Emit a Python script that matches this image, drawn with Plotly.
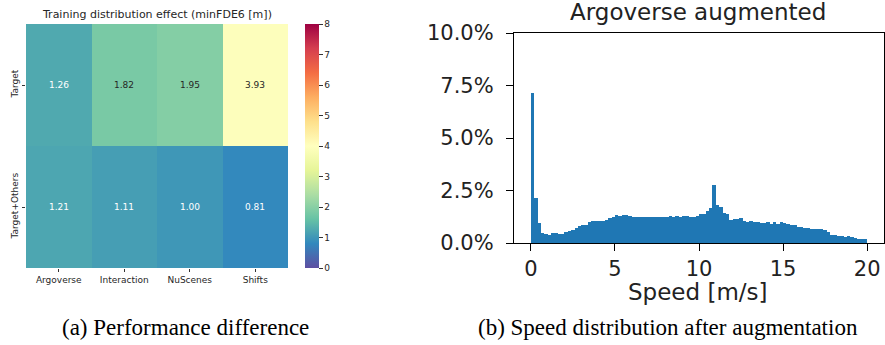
import plotly.graph_objects as go
from plotly.colors import sample_colorscale

# ---- data: heatmap ----
datasets = ["Argoverse", "Interaction", "NuScenes", "Shifts"]
train_setups = ["Target", "Target+Others"]
min_fde_target = [1.26, 1.82, 1.95, 3.93]
min_fde_target_others = [1.21, 1.11, 1.00, 0.81]
cbar_ticks = [0, 1, 2, 3, 4, 5, 6, 7, 8]

# ---- data: speed histogram (percent per 0.2 m/s bin, 0..20 m/s) ----
bin_width = 0.2
speed_pct = [
    7.16, 2.12, 0.97, 0.50, 0.42, 0.36, 0.48, 0.48, 0.43, 0.45,
    0.53, 0.57, 0.63, 0.72, 0.80, 0.84, 0.88, 1.00, 1.04, 1.05,
    1.05, 1.06, 1.08, 1.20, 1.25, 1.32, 1.28, 1.34, 1.31, 1.28,
    1.26, 1.25, 1.25, 1.26, 1.25, 1.25, 1.24, 1.24, 1.22, 1.25,
    1.24, 1.27, 1.26, 1.30, 1.22, 1.27, 1.29, 1.22, 1.23, 1.30,
    1.36, 1.40, 1.52, 1.65, 2.76, 1.80, 1.72, 1.44, 1.38, 1.08,
    1.12, 1.14, 1.17, 1.06, 1.02, 1.03, 1.00, 1.02, 0.97, 0.96,
    0.99, 0.92, 1.01, 0.91, 1.00, 0.93, 0.92, 0.88, 0.84, 0.78,
    0.76, 0.73, 0.70, 0.66, 0.66, 0.65, 0.65, 0.64, 0.52, 0.38,
    0.36, 0.34, 0.32, 0.29, 0.31, 0.27, 0.25, 0.20, 0.18, 0.17,
]
speed_centers = [bin_width * (i + 0.5) for i in range(len(speed_pct))]
x_ticks = [0, 5, 10, 15, 20]
y_ticks = [0.0, 2.5, 5.0, 7.5, 10.0]
y_ticklabels = ["0.0%", "2.5%", "5.0%", "7.5%", "10.0%"]

W, H = 885, 345
def px(x):
    return x / W
def py(y):
    return 1 - y / H

z = [min_fde_target, min_fde_target_others]
zmin, zmax = 0, 8

fig = go.Figure()
fig.add_trace(go.Heatmap(
    z=z, x=datasets, y=train_setups, zmin=zmin, zmax=zmax,
    colorscale="Spectral_r", xaxis="x", yaxis="y",
    hoverinfo="skip",
    colorbar=dict(
        x=px(305), xanchor="left", y=py(268), yanchor="bottom",
        len=(268 - 24) / H, lenmode="fraction", thickness=14,
        thicknessmode="pixels", xpad=0, ypad=0, outlinewidth=0,
        tickvals=cbar_ticks, ticks="outside", ticklen=4, tickwidth=1,
        tickcolor="#333333",
        tickfont=dict(family="DejaVu Sans", size=9, color="#262626"),
    ),
))

def lin(u):
    u = u / 255
    return u / 12.92 if u <= 0.03928 else ((u + 0.055) / 1.055) ** 2.4

# annotations of heatmap values with contrast text color
for r, row in enumerate(z):
    for c, v in enumerate(row):
        col = sample_colorscale("Spectral_r", [(v - zmin) / (zmax - zmin)])[0]
        rgb = [float(t) for t in col[col.index("(") + 1:col.index(")")].split(",")]
        lum = 0.2126 * lin(rgb[0]) + 0.7152 * lin(rgb[1]) + 0.0722 * lin(rgb[2])
        tcol = "#262626" if lum > 0.408 else "white"
        fig.add_annotation(x=datasets[c], y=train_setups[r], xref="x", yref="y",
                           text=f"{v:.2f}", showarrow=False,
                           font=dict(family="DejaVu Sans", size=9, color=tcol))

fig.add_trace(go.Bar(
    x=speed_centers, y=speed_pct, width=bin_width,
    marker=dict(color="#1f77b4", line=dict(width=0)),
    xaxis="x2", yaxis="y2", hoverinfo="skip",
))

fig.update_layout(
    width=W, height=H, margin=dict(l=0, r=0, t=0, b=0, autoexpand=False),
    paper_bgcolor="white", plot_bgcolor="white", showlegend=False,
    bargap=0,
    xaxis=dict(domain=[px(26), px(288)], anchor="y", showgrid=False,
               zeroline=False, ticks="outside", ticklen=3, tickwidth=1,
               tickcolor="#333333", showline=False, automargin=False,
               tickfont=dict(family="DejaVu Sans", size=9, color="#262626")),
    yaxis=dict(domain=[py(268), py(24)], anchor="x", showgrid=False,
               zeroline=False, autorange="reversed", ticks="outside",
               ticklen=3, tickwidth=1, tickcolor="#333333", tickangle=-90,
               automargin=False,
               tickfont=dict(family="DejaVu Sans", size=9, color="#262626")),
    xaxis2=dict(domain=[px(514), px(884)], anchor="y2", range=[-1, 21],
                showgrid=False, zeroline=False, tickvals=x_ticks,
                ticks="outside", ticklen=7, tickwidth=1.3, tickcolor="black",
                showline=True, linecolor="black", linewidth=1.3, mirror=True,
                automargin=False,
                tickfont=dict(family="DejaVu Sans", size=21, color="#222222")),
    yaxis2=dict(domain=[py(243), py(33)], anchor="x2", range=[0, 10],
                showgrid=False, zeroline=False, tickvals=y_ticks,
                ticktext=y_ticklabels, ticks="outside", ticklen=7,
                tickwidth=1.3, tickcolor="black", showline=True,
                linecolor="black", linewidth=1.3, mirror=True,
                automargin=False, ticklabelstandoff=8,
                tickfont=dict(family="DejaVu Sans", size=21, color="#222222")),
)

fig.add_annotation(text="Training distribution effect (minFDE6 [m])",
                   x=px(157), y=py(15), xref="paper", yref="paper",
                   showarrow=False, xanchor="center", yanchor="middle",
                   font=dict(family="DejaVu Sans", size=11, color="#262626"))
fig.add_annotation(text="Argoverse augmented",
                   x=px(698), y=py(12), xref="paper", yref="paper",
                   showarrow=False, xanchor="center", yanchor="middle",
                   font=dict(family="DejaVu Sans", size=23, color="#222222"))
fig.add_annotation(text="Speed [m/s]",
                   x=px(698), y=py(292), xref="paper", yref="paper",
                   showarrow=False, xanchor="center", yanchor="middle",
                   font=dict(family="DejaVu Sans", size=23, color="#222222"))
fig.add_annotation(text="(a) Performance difference",
                   x=px(185), y=py(327), xref="paper", yref="paper",
                   showarrow=False, xanchor="center", yanchor="middle",
                   font=dict(family="Liberation Serif", size=23, color="black"))
fig.add_annotation(text="(b) Speed distribution after augmentation",
                   x=px(668), y=py(327), xref="paper", yref="paper",
                   showarrow=False, xanchor="center", yanchor="middle",
                   font=dict(family="Liberation Serif", size=23, color="black"))

fig.write_html("out.html", config={"displayModeBar": False},
               post_script="document.body.style.margin='0';document.body.style.overflow='hidden';")
